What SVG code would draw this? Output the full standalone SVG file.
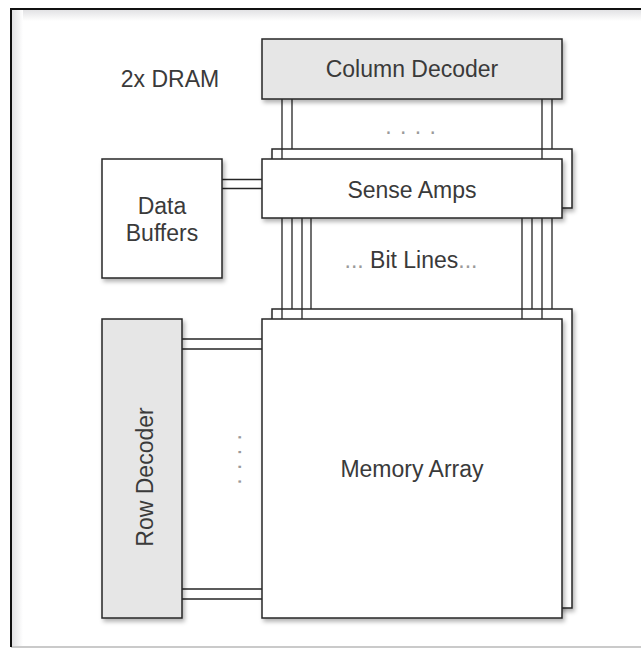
<svg xmlns="http://www.w3.org/2000/svg" width="641" height="648" viewBox="0 0 641 648">
  <defs>
    <filter id="shadow" x="-10%" y="-10%" width="130%" height="130%">
      <feDropShadow dx="2" dy="3" stdDeviation="2.2" flood-color="#000" flood-opacity="0.3"/>
    </filter>
    <linearGradient id="topShade" x1="0" y1="0" x2="0" y2="1">
      <stop offset="0" stop-color="#e2e2e4"/>
      <stop offset="1" stop-color="#ffffff"/>
    </linearGradient>
    <linearGradient id="leftShade" x1="0" y1="0" x2="1" y2="0">
      <stop offset="0" stop-color="#e2e2e4"/>
      <stop offset="1" stop-color="#ffffff"/>
    </linearGradient>
  </defs>
  <style>
    .box { stroke: #262626; stroke-width: 1.5; }
    .plain { fill: #ffffff; }
    .grey { fill: #e6e6e6; }
    .label { font-family: "Liberation Sans", Arial, sans-serif; font-size: 23px; fill: #3a3a3a; text-anchor: middle; }
    .dots { font-family: "Liberation Sans", Arial, sans-serif; font-size: 23px; fill: #9a9a9a; text-anchor: middle; letter-spacing: 1px; }
    .wire { stroke: #262626; stroke-width: 1.3; fill: none; }
  </style>

  <!-- page and framed panel -->
  <rect x="0" y="0" width="641" height="648" fill="#ffffff"/>
  <g id="frame">
    <rect x="11" y="9" width="640" height="638" fill="#ffffff"/>
    <rect x="12" y="10" width="629" height="11" fill="url(#topShade)"/>
    <rect x="12" y="10" width="11" height="636" fill="url(#leftShade)"/>
    <line x1="11" y1="647" x2="641" y2="647" stroke="#b8b8b8" stroke-width="1.5"/>
    <path d="M11 647 V9 H641" fill="none" stroke="#111" stroke-width="2"/>
  </g>

  <!-- second-chip layers behind the front blocks -->
  <g id="sense-amps-back">
    <rect class="box plain" x="272" y="149" width="300" height="59" filter="url(#shadow)"/>
  </g>
  <g id="memory-array-back">
    <rect class="box plain" x="272" y="309" width="300" height="299" filter="url(#shadow)"/>
  </g>

  <!-- buses between blocks -->
  <g id="connectors">
    <path class="wire" d="M282 99 V159 M292 99 V149 M542 99 V159 M552 99 V149"/>
    <path class="wire" d="M222 179.5 H262 M222 188.5 H262"/>
    <path class="wire" d="M282 208 V319 M302 208 V319 M292 208 V309 M311 208 V309"/>
    <path class="wire" d="M522 208 V319 M542 208 V319 M532 208 V309 M552 208 V309"/>
    <path class="wire" d="M182 339 H262 M182 349 H262 M182 589 H262 M182 599 H262"/>
  </g>

  <g id="dram-label">
    <text class="label" x="170" y="87">2x DRAM</text>
  </g>

  <g id="column-decoder">
    <rect class="box grey" x="262" y="39" width="300" height="60" filter="url(#shadow)"/>
    <text class="label" x="412" y="77">Column Decoder</text>
  </g>

  <g id="column-dots">
    <text class="dots" x="411" y="134">. . . .</text>
  </g>

  <g id="sense-amps">
    <rect class="box plain" x="262" y="159" width="300" height="59" filter="url(#shadow)"/>
    <text class="label" x="412" y="198">Sense Amps</text>
  </g>

  <g id="data-buffers">
    <rect class="box plain" x="102" y="159" width="120" height="119" filter="url(#shadow)"/>
    <text class="label" x="162" y="214">Data</text>
    <text class="label" x="162" y="241">Buffers</text>
  </g>

  <g id="bit-lines">
    <text class="label" x="411" y="268"><tspan fill="#9a9a9a">...</tspan> Bit Lines<tspan fill="#9a9a9a">...</tspan></text>
  </g>

  <g id="row-decoder">
    <rect class="box grey" x="102" y="319" width="80" height="299" filter="url(#shadow)"/>
    <text class="label" transform="translate(153 477) rotate(-90)" x="0" y="0">Row Decoder</text>
  </g>

  <g id="row-dots">
    <text class="dots" transform="translate(241 459) rotate(-90)" x="0" y="0">. . . .</text>
  </g>

  <g id="memory-array">
    <rect class="box plain" x="262" y="319" width="300" height="299" filter="url(#shadow)"/>
    <text class="label" x="412" y="477">Memory Array</text>
  </g>
</svg>
